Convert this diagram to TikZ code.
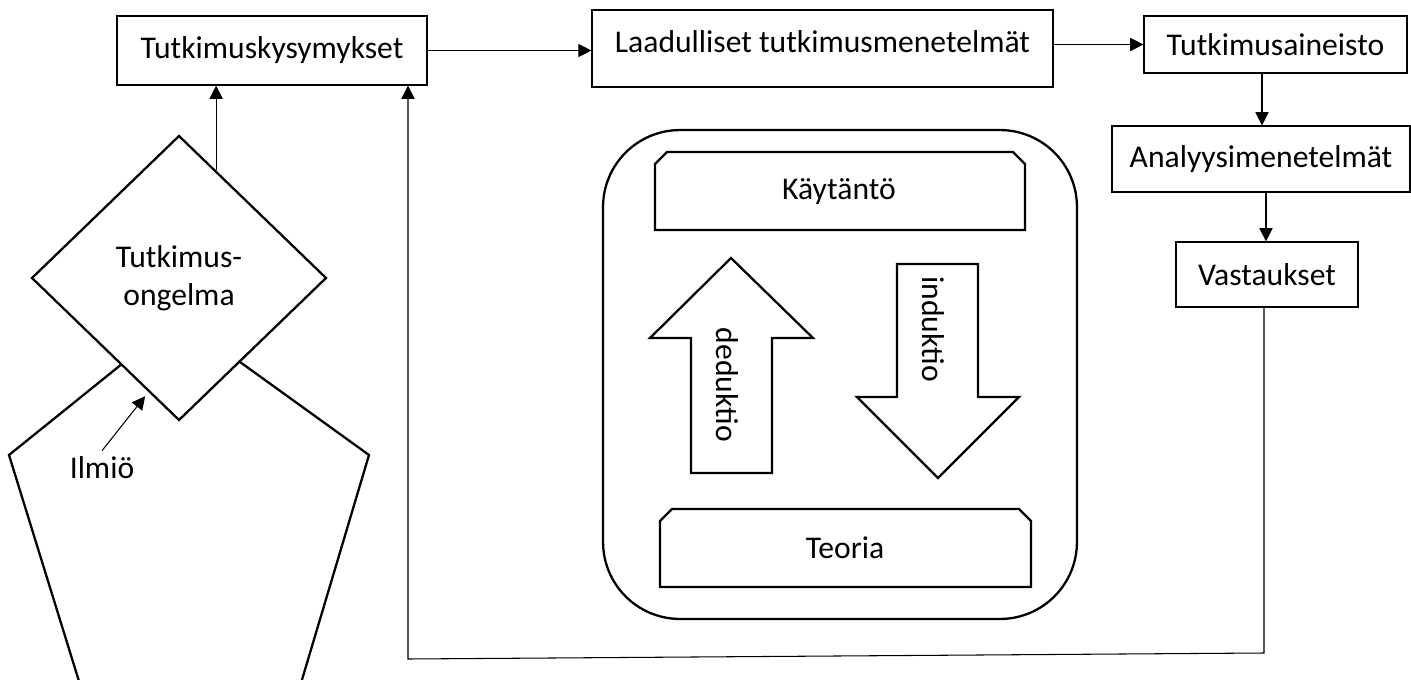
\documentclass[tikz,border=0pt]{standalone}
\usepackage{fontspec}
\setmainfont{Carlito}
\usetikzlibrary{shapes.geometric, arrows.meta}

\begin{document}
\begin{tikzpicture}[
        x=0.02cm, y=-0.02cm,
        >={Triangle[length=7.5pt, width=7.5pt]},
        every node/.style={align=center, font=\fontsize{18}{21.6}\selectfont},
        box/.style={draw, rectangle, line width=0.7pt, inner sep=0pt},
        outline/.style={draw, line width=1.3pt},
        link/.style={->, line width=0.6pt},
    ]
    \useasboundingbox (0,0) rectangle (1411,680);

    % ilmio, runs off the page
    \begin{scope}
        \clip (0,0) rectangle (1411,680);
        \draw[outline] (179,318) -- (369,455) -- (290,720) -- (91,720) -- (9,455) -- cycle;
    \end{scope}
    \node[diamond, outline, fill=white, minimum width=5.9cm, minimum height=5.7cm, inner sep=0pt] (ongelma) at (179,278) {Tutkimus-\\ongelma};
    \node (ilmio) at (102,468) {Ilmiö};
    \draw[link, shorten >=3pt] (ilmio.north) -- (ongelma.255);

    % top row and right column
    \node[box, minimum width=6.2cm, minimum height=1.38cm] (kysymykset) at (272,50.5) {Tutkimuskysymykset};
    \node[box, minimum width=9.22cm, minimum height=1.54cm, text height=12pt, text depth=8pt] (menetelmat) at (822.5,48.5) {Laadulliset tutkimusmenetelmät};
    \node[box, minimum width=5.26cm, minimum height=1.14cm] (aineisto) at (1275.5,44.5) {Tutkimusaineisto};
    \node[box, minimum width=5.96cm, minimum height=1.32cm] (analyysi) at (1261,159) {Analyysimenetelmät};
    \node[box, minimum width=3.64cm, minimum height=1.3cm] (vastaukset) at (1267,274.5) {Vastaukset};

    \draw[link] (ongelma.71) -- (ongelma.71 |- kysymykset.south);
    \draw[link] (kysymykset.east) -- (kysymykset.east -| menetelmat.west);
    \draw[link] (aineisto.west -| menetelmat.east) -- (aineisto.west);
    \draw[link] ([xshift=-0.27cm]aineisto.south) -- ([xshift=-0.27cm]aineisto.south |- analyysi.north);
    \draw[link] ([xshift=0.1cm]analyysi.south) -- ([xshift=0.1cm]analyysi.south |- vastaukset.north);

    % back to the questions
    \coordinate (kulma1) at (1264,653);
    \coordinate (kulma2) at (408,659);
    \draw[link] (vastaukset.south -| kulma1) -- (kulma1) -- (kulma2) -- (kulma2 |- kysymykset.south);

    % theory and practice
    \node[outline, rectangle, rounded corners=1.54cm, minimum width=9.48cm, minimum height=9.78cm] (kehys) at (840,374.5) {};
    \draw[outline] (655,230) -- (655,164) -- (667,152) -- (1013,152) -- (1025,164) -- (1025,230) -- cycle;
    \node (kaytanto) at (839,192) {Käytäntö};
    \draw[outline] (660,587) -- (660,521) -- (672,509) -- (1019,509) -- (1031,521) -- (1031,587) -- cycle;
    \node (teoria) at (845,548) {Teoria};

    \draw[outline] (731,258) -- (813,338) -- (772,338) -- (772,473) -- (691,473) -- (691,338) -- (650,338) -- cycle;
    \node[rotate=-90] (deduktio) at (727,385) {deduktio};
    \draw[outline] (897,264) -- (978,264) -- (978,397) -- (1019,397) -- (938,478) -- (857,397) -- (897,397) -- cycle;
    \node[rotate=-90] (induktio) at (933,329) {induktio};
\end{tikzpicture}
\end{document}
